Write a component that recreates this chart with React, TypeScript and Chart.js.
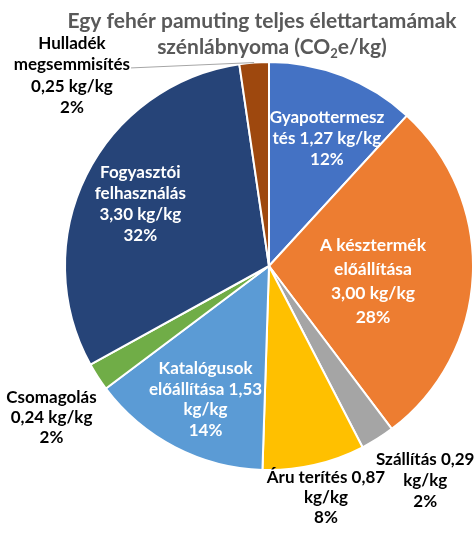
import React, { useEffect, useRef } from "react";
import { Chart, registerables } from "chart.js";

Chart.register(...registerables);

const categories = [
  "Gyapottermesztés",
  "A késztermék előállítása",
  "Szállítás",
  "Áru terítés",
  "Katalógusok előállítása",
  "Csomagolás",
  "Fogyasztói felhasználás",
  "Hulladék megsemmisítés",
];
const values = [1.27, 3.0, 0.29, 0.87, 1.53, 0.24, 3.3, 0.25];
const percentLabels = ["12%", "28%", "2%", "8%", "14%", "2%", "32%", "2%"];
const unit = "kg/kg";
const colors = ["#4472C4", "#ED7D31", "#A5A5A5", "#FFC000", "#5B9BD5", "#70AD47", "#264478", "#9E480E"];
const titleLine1 = [{ t: "Egy fehér pamuting teljes élettartamámak", sub: false }];
const titleLine2 = [
  { t: "szénlábnyoma (CO", sub: false },
  { t: "2", sub: true },
  { t: "e/kg)", sub: false },
];

function fmt(v: number) {
  return v.toFixed(2).replace(".", ",");
}

// data label text, wrapped as in the reference
const labelLines: string[][] = [
  ["Gyapottermesz", `tés ${fmt(values[0])} ${unit}`, percentLabels[0]],
  ["A késztermék", "előállítása", `${fmt(values[1])} ${unit}`, percentLabels[1]],
  [`Szállítás ${fmt(values[2])}`, unit, percentLabels[2]],
  [`Áru terítés ${fmt(values[3])}`, unit, percentLabels[3]],
  ["Katalógusok", `előállítása ${fmt(values[4])}`, unit, percentLabels[4]],
  ["Csomagolás", `${fmt(values[5])} ${unit}`, percentLabels[5]],
  ["Fogyasztói", "felhasználás", `${fmt(values[6])} ${unit}`, percentLabels[6]],
  ["Hulladék", "megsemmisítés", `${fmt(values[7])} ${unit}`, percentLabels[7]],
];

// layout of the data labels (polar position relative to the pie)
const labelLayout = [
  { angle: 24.5, r: 0.685, inside: true, lh: 21, size: 17 },
  { angle: 98.2, r: 0.515, inside: true, lh: 24, size: 17.5 },
  { angle: 143.9, r: 1.3, inside: false, lh: 21, size: 17 },
  { angle: 166.2, r: 1.17, inside: false, lh: 20, size: 17 },
  { angle: 205.4, r: 0.725, inside: true, lh: 20.5, size: 17 },
  { angle: 235.1, r: 1.3, inside: false, lh: 20, size: 17 },
  { angle: 295.7, r: 0.7, inside: true, lh: 21, size: 17 },
  { angle: 314, r: 1.343, inside: false, lh: 21.5, size: 17, leader: true },
];

const FONT = "Lato, 'Open Sans', sans-serif";

const labelPlugin = {
  id: "excelLabels",
  afterDatasetsDraw(chart: any) {
    const ctx: CanvasRenderingContext2D = chart.ctx;
    const meta = chart.getDatasetMeta(0);
    ctx.save();
    meta.data.forEach((arc: any, i: number) => {
      const lay: any = labelLayout[i];
      const { x, y, outerRadius, startAngle, endAngle } = arc.getProps(
        ["x", "y", "outerRadius", "startAngle", "endAngle"],
        true
      );
      const a = (lay.angle * Math.PI) / 180;
      const cx = x + lay.r * outerRadius * Math.sin(a);
      const cy = y - lay.r * outerRadius * Math.cos(a);
      ctx.font = `bold ${lay.size}px ${FONT}`;
      const lines = labelLines[i];
      ctx.fillStyle = lay.inside ? "#ffffff" : "#000000";
      ctx.textAlign = "center";
      ctx.textBaseline = "middle";
      const top = cy - ((lines.length - 1) * lay.lh) / 2;
      lines.forEach((ln, k) => ctx.fillText(ln, cx, top + k * lay.lh));
      if (lay.leader) {
        const mid = (startAngle + endAngle) / 2;
        const ex = x + outerRadius * Math.cos(mid);
        const ey = y + outerRadius * Math.sin(mid);
        const w = ctx.measureText(lines[1]).width;
        const sx = cx + w / 2 + 1;
        const sy = top + lay.lh + 3;
        ctx.strokeStyle = "#a6a6a6";
        ctx.lineWidth = 1;
        ctx.beginPath();
        ctx.moveTo(sx, sy);
        ctx.lineTo(ex, ey);
        ctx.stroke();
      }
    });
    ctx.restore();
  },
};

function drawSegments(ctx: CanvasRenderingContext2D, segs: { t: string; sub: boolean }[], centerX: number, baseY: number, size: number) {
  const subSize = Math.round(size * 0.62);
  let total = 0;
  const widths = segs.map((s) => {
    ctx.font = `bold ${s.sub ? subSize : size}px ${FONT}`;
    const w = ctx.measureText(s.t).width;
    total += w;
    return w;
  });
  let xx = centerX - total / 2;
  segs.forEach((s, k) => {
    ctx.font = `bold ${s.sub ? subSize : size}px ${FONT}`;
    ctx.fillText(s.t, xx, s.sub ? baseY + size * 0.18 : baseY);
    xx += widths[k];
  });
}

const titlePlugin = {
  id: "excelTitle",
  afterDraw(chart: any) {
    const ctx: CanvasRenderingContext2D = chart.ctx;
    ctx.save();
    ctx.fillStyle = "#595959";
    ctx.textAlign = "left";
    ctx.textBaseline = "alphabetic";
    drawSegments(ctx, titleLine1, 262, 28, 21);
    drawSegments(ctx, titleLine2, 272, 54, 21);
    ctx.restore();
  },
};

export default function App() {
  const ref = useRef<HTMLCanvasElement | null>(null);
  useEffect(() => {
    document.body.style.margin = "0";
    if (!ref.current) return;
    const chart = new Chart(ref.current, {
      type: "pie",
      data: {
        labels: categories,
        datasets: [
          {
            data: values,
            backgroundColor: colors,
            borderColor: "#ffffff",
            borderWidth: 2,
          },
        ],
      },
      options: {
        responsive: false,
        animation: false,
        layout: { padding: { left: 64, right: 0, top: 61, bottom: 62 } },
        plugins: {
          legend: { display: false },
          tooltip: { enabled: false },
          title: { display: false },
        },
      },
      plugins: [labelPlugin, titlePlugin],
    });
    return () => chart.destroy();
  }, []);
  return (
    <div style={{ width: 474, height: 533, background: "#fff" }}>
      <canvas ref={ref} width={474} height={533} style={{ display: "block" }} />
    </div>
  );
}
